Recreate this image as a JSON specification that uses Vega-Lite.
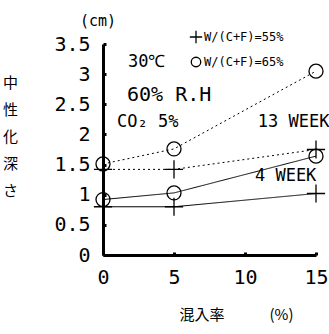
{
  "$schema": "https://vega.github.io/schema/vega-lite/v6.json",
  "autosize": "none",
  "width": 213,
  "height": 211,
  "padding": {"left": 103, "top": 44, "right": 13, "bottom": 79},
  "background": "white",
  "config": {
    "view": {"stroke": null},
    "font": "DejaVu Sans Mono"
  },
  "datasets": {
    "points": [
      {"mix": 0, "depth": 0.80, "ratio": "W/(C+F)=55%", "week": "4 WEEK"},
      {"mix": 5, "depth": 0.80, "ratio": "W/(C+F)=55%", "week": "4 WEEK"},
      {"mix": 15, "depth": 1.02, "ratio": "W/(C+F)=55%", "week": "4 WEEK"},
      {"mix": 0, "depth": 0.92, "ratio": "W/(C+F)=65%", "week": "4 WEEK"},
      {"mix": 5, "depth": 1.03, "ratio": "W/(C+F)=65%", "week": "4 WEEK"},
      {"mix": 15, "depth": 1.64, "ratio": "W/(C+F)=65%", "week": "4 WEEK"},
      {"mix": 0, "depth": 1.42, "ratio": "W/(C+F)=55%", "week": "13 WEEK"},
      {"mix": 5, "depth": 1.42, "ratio": "W/(C+F)=55%", "week": "13 WEEK"},
      {"mix": 15, "depth": 1.75, "ratio": "W/(C+F)=55%", "week": "13 WEEK"},
      {"mix": 0, "depth": 1.51, "ratio": "W/(C+F)=65%", "week": "13 WEEK"},
      {"mix": 5, "depth": 1.76, "ratio": "W/(C+F)=65%", "week": "13 WEEK"},
      {"mix": 15, "depth": 3.05, "ratio": "W/(C+F)=65%", "week": "13 WEEK"}
    ],
    "notes": [
      {"mix": 1.76, "depth": 3.20, "t": "30℃"},
      {"mix": 1.69, "depth": 2.65, "t": "60% R.H"},
      {"mix": 0.99, "depth": 2.21, "t": "CO₂ 5%"},
      {"mix": 10.9, "depth": 2.21, "t": "13 WEEK"},
      {"mix": 10.7, "depth": 1.31, "t": "4 WEEK"},
      {"mix": -1.62, "depth": 3.88, "t": "(cm)"}
    ]
  },
  "encoding": {
    "x": {"field": "mix", "type": "quantitative",
      "scale": {"domain": [0, 15], "nice": false},
      "axis": {
        "values": [0, 5, 10, 15], "grid": false, "labelOverlap": false, "labelFlush": false,
        "domainColor": "black", "domainWidth": 3,
        "tickColor": "black", "tickSize": -3, "tickWidth": 3,
        "labelFontSize": 20, "labelColor": "black", "labelPadding": 15, "labelDx": -3,
        "labelFont": "DejaVu Sans Mono",
        "title": "混入率　　　(%)", "titleFont": "Noto Sans CJK JP",
        "titleFontSize": 15, "titleFontWeight": "normal", "titleColor": "black",
        "titleX": 133, "titleY": 59, "titleBaseline": "middle", "titleAlign": "center"
      }
    },
    "y": {"field": "depth", "type": "quantitative",
      "scale": {"domain": [0, 3.5], "nice": false},
      "axis": {
        "values": [0, 0.5, 1, 1.5, 2, 2.5, 3, 3.5], "grid": false, "labelOverlap": false,
        "domainColor": "black", "domainWidth": 3,
        "tickColor": "black", "tickSize": -3, "tickWidth": 3,
        "labelFontSize": 20, "labelColor": "black", "labelPadding": 16,
        "labelFont": "DejaVu Sans Mono", "format": ".1~f",
        "title": ["中", "性", "化", "深", "さ"], "titleFont": "Noto Sans CJK JP",
        "titleFontSize": 15, "titleFontWeight": "normal", "titleColor": "black",
        "titleAngle": 0, "titleLineHeight": 27, "titleX": -93, "titleY": 31,
        "titleBaseline": "top", "titleAlign": "center"
      }
    }
  },
  "layer": [
    {
      "data": {"name": "points"},
      "mark": {"type": "line", "color": "black", "strokeWidth": 1},
      "encoding": {
        "detail": {"field": "ratio"},
        "strokeDash": {"field": "week", "type": "nominal",
          "scale": {"domain": ["4 WEEK", "13 WEEK"], "range": [[1, 0], [2, 3]]},
          "legend": null}
      }
    },
    {
      "data": {"name": "points"},
      "mark": {"type": "point", "filled": false, "color": "black", "strokeWidth": 1.3, "opacity": 1, "size": 196},
      "encoding": {
        "shape": {"field": "ratio", "type": "nominal",
          "scale": {"domain": ["W/(C+F)=55%", "W/(C+F)=65%"], "range": ["M-1.3,0L1.3,0M0,-1.3L0,1.3", "circle"]},
          "legend": {
            "title": null, "orient": "none", "legendX": 87, "legendY": -13,
            "rowPadding": 8, "symbolStrokeColor": "black", "symbolStrokeWidth": 1.3,
            "symbolFillColor": "transparent", "symbolSize": 90,
            "labelFontSize": 12, "labelColor": "black", "labelOffset": 2,
            "labelFont": "DejaVu Sans Mono"
          }
        }
      }
    },
    {
      "data": {"name": "notes"},
      "transform": [{"filter": "datum.t !== '(cm)' && datum.t !== '60% R.H'"}],
      "mark": {"type": "text", "align": "left", "baseline": "middle", "fontSize": 17,
        "color": "black", "font": "DejaVu Sans Mono"},
      "encoding": {"text": {"field": "t"}}
    },
    {
      "data": {"name": "notes"},
      "transform": [{"filter": "datum.t === '60% R.H'"}],
      "mark": {"type": "text", "align": "left", "baseline": "middle", "fontSize": 20,
        "color": "black", "font": "DejaVu Sans Mono"},
      "encoding": {"text": {"field": "t"}}
    },
    {
      "data": {"name": "notes"},
      "transform": [{"filter": "datum.t === '(cm)'"}],
      "mark": {"type": "text", "align": "left", "baseline": "middle", "fontSize": 15,
        "color": "black", "font": "DejaVu Sans Mono"},
      "encoding": {"text": {"field": "t"}}
    }
  ]
}
